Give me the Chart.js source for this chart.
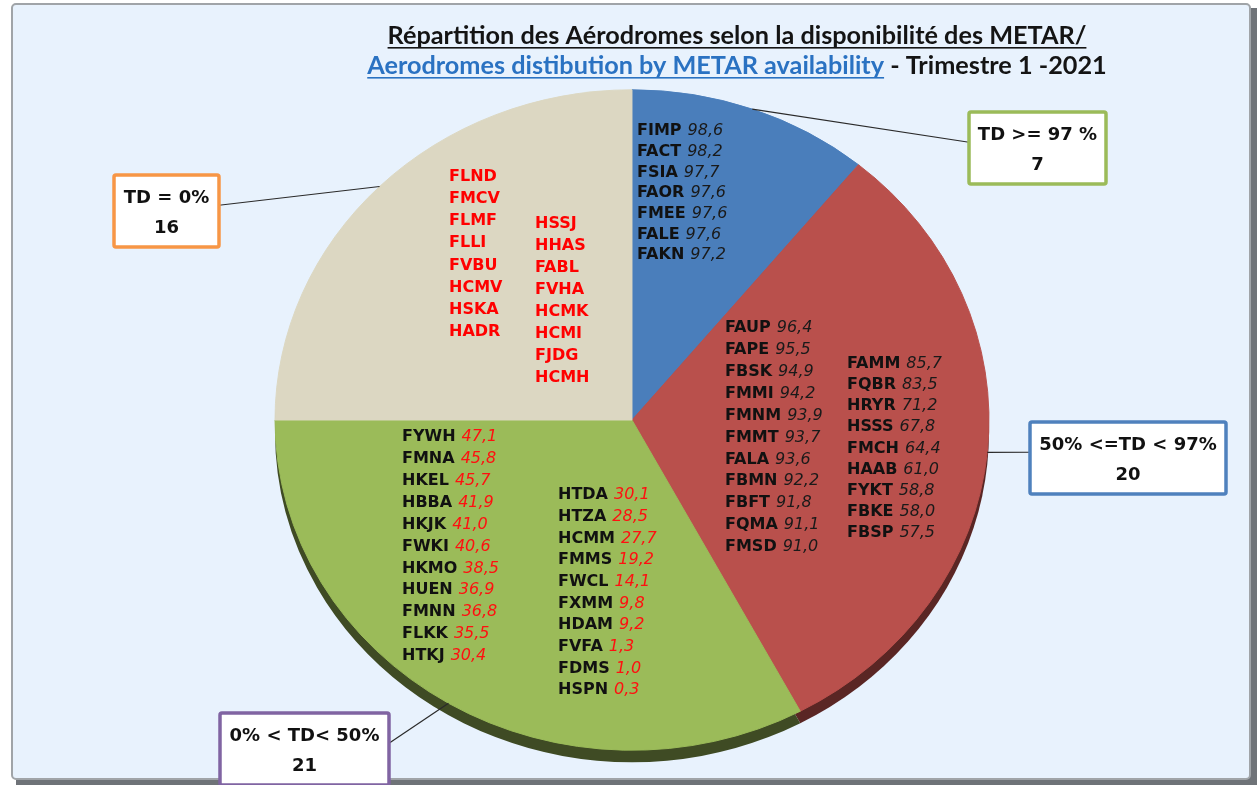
<!DOCTYPE html>
<html><head><meta charset="utf-8">
<script src="https://cdn.jsdelivr.net/npm/chart.js@4.4.1/dist/chart.umd.min.js"></script>
<style>html,body{margin:0;padding:0;background:#fff;overflow:hidden}#wrap{position:absolute;left:0;top:0;width:1259px;height:785px}</style>
</head><body><div id="wrap"><canvas id="c" width="1259" height="785"></canvas></div>
<script>
// ---- data ----
const categories = ["TD >= 97 %", "50% <=TD < 97%", "0% < TD< 50%", "TD = 0%"];
const counts = [7, 20, 21, 16];

const blueCodes = ["FIMP","FACT","FSIA","FAOR","FMEE","FALE","FAKN"];
const blueValues = [98.6,98.2,97.7,97.6,97.6,97.6,97.2];

const redCodes1 = ["FAUP","FAPE","FBSK","FMMI","FMNM","FMMT","FALA","FBMN","FBFT","FQMA","FMSD"];
const redValues1 = [96.4,95.5,94.9,94.2,93.9,93.7,93.6,92.2,91.8,91.1,91.0];
const redCodes2 = ["FAMM","FQBR","HRYR","HSSS","FMCH","HAAB","FYKT","FBKE","FBSP"];
const redValues2 = [85.7,83.5,71.2,67.8,64.4,61.0,58.8,58.0,57.5];

const greenCodes1 = ["FYWH","FMNA","HKEL","HBBA","HKJK","FWKI","HKMO","HUEN","FMNN","FLKK","HTKJ"];
const greenValues1 = [47.1,45.8,45.7,41.9,41.0,40.6,38.5,36.9,36.8,35.5,30.4];
const greenCodes2 = ["HTDA","HTZA","HCMM","FMMS","FWCL","FXMM","HDAM","FVFA","FDMS","HSPN"];
const greenValues2 = [30.1,28.5,27.7,19.2,14.1,9.8,9.2,1.3,1.0,0.3];

const beigeCodes1 = ["FLND","FMCV","FLMF","FLLI","FVBU","HCMV","HSKA","HADR"];
const beigeCodes2 = ["HSSJ","HHAS","FABL","FVHA","HCMK","HCMI","FJDG","HCMH"];

const titleLine1 = "Répartition des Aérodromes selon la disponibilité des METAR/";
const titleLine2a = "Aerodromes distibution by METAR availability";
const titleLine2b = " - Trimestre 1 -2021";

// ---- styles ----
const sliceColors = ["#4a7ebb", "#b9504c", "#9bbb59", "#dcd7c2"];
const rimColors = ["#2c4a70", "#5a2624", "#3f4b24", "#7d7a6b"];
const boxBorders = ["#9bbb59", "#4f81bd", "#8064a2", "#f79646"];
const boxes = [ // x, y, w, h
  [969, 112, 137, 72],
  [1030, 422, 196, 72],
  [220, 713, 169, 72],
  [114, 175, 105, 72]
];
const SY = 0.925;     // vertical squash for tilted look
const DEPTH = 12;     // rim thickness (px)
const labelFont = "'DejaVu Sans', Verdana, sans-serif";

function fmt(v){ return v.toFixed(1).replace('.', ','); }

const framePlugin = {
  id: 'frame',
  beforeDraw(chart){
    const ctx = chart.ctx;
    ctx.save();
    ctx.fillStyle = '#ffffff';
    ctx.fillRect(0,0,chart.width,chart.height);
    // shadow
    ctx.fillStyle = '#6f7378';
    ctx.fillRect(16, 8, 1241, 777);
    ctx.fillStyle = '#e8f2fd';
    ctx.strokeStyle = '#a0a4a8';
    ctx.lineWidth = 2;
    ctx.beginPath();
    ctx.roundRect(12, 4, 1238, 775, 4);
    ctx.fill(); ctx.stroke();
    // title
    const fam = "Lato, 'Open Sans', sans-serif";
    ctx.font = `bold 20px ${fam}`;
    const w0 = ctx.measureText(titleLine1).width;
    const size = 20 * 699 / w0;
    ctx.font = `bold ${size}px ${fam}`;
    ctx.textBaseline = 'alphabetic';
    ctx.textAlign = 'left';
    const tcx = 737;
    const w1 = ctx.measureText(titleLine1).width;
    ctx.fillStyle = '#141414';
    ctx.fillText(titleLine1, tcx - w1/2, 44);
    ctx.fillRect(tcx - w1/2, 47, w1, 1.6);
    const wa = ctx.measureText(titleLine2a).width;
    const wb = ctx.measureText(titleLine2b).width;
    const x2 = tcx - (wa + wb)/2;
    ctx.fillStyle = '#2a72c2';
    ctx.fillText(titleLine2a, x2, 74);
    ctx.fillRect(x2, 77, wa, 1.6);
    ctx.fillStyle = '#141414';
    ctx.fillText(titleLine2b, x2 + wa, 74);
    ctx.restore();
  },
  beforeDatasetsDraw(chart){
    const ctx = chart.ctx;
    const arcs = chart.getDatasetMeta(0).data;
    const cy = arcs[0].y;
    ctx.save();
    ctx.translate(0, cy); ctx.scale(1, SY); ctx.translate(0, -cy);
    // rim (3D side)
    arcs.forEach((a, i) => {
      const d = DEPTH / SY;
      ctx.beginPath();
      ctx.moveTo(a.x, a.y + d);
      ctx.arc(a.x, a.y + d, a.outerRadius, a.startAngle, a.endAngle);
      ctx.closePath();
      ctx.fillStyle = rimColors[i];
      ctx.fill();
    });
  },
  afterDatasetsDraw(chart){
    const ctx = chart.ctx;
    ctx.restore();
    const arcs = chart.getDatasetMeta(0).data;
    const cx = arcs[0].x, cy = arcs[0].y, r = arcs[0].outerRadius;

    function col(codes, values, dx, dy, step, codeColor, valColor){
      codes.forEach((c, i) => {
        const x = cx + dx, y = cy + dy + i*step;
        ctx.textBaseline = 'middle';
        ctx.textAlign = 'left';
        ctx.font = `bold 16px ${labelFont}`;
        ctx.fillStyle = codeColor;
        ctx.fillText(c, x, y);
        if (values) {
          const w = ctx.measureText(c).width + 6;
          ctx.font = `italic 16px ${labelFont}`;
          ctx.fillStyle = valColor;
          ctx.fillText(fmt(values[i]), x + w, y);
        }
      });
    }
    ctx.save();
    col(blueCodes, blueValues, 5, -289, 20.7, '#111', '#1a1a1a');
    col(redCodes1, redValues1, 93, -92, 21.9, '#111', '#1a1a1a');
    col(redCodes2, redValues2, 215, -56, 21.1, '#111', '#1a1a1a');
    col(greenCodes1, greenValues1, -230, 17, 21.9, '#111', '#ff1010');
    col(greenCodes2, greenValues2, -74, 75, 21.7, '#111', '#ff1010');
    col(beigeCodes1, null, -183, -243, 22.1, '#ff0000', null);
    col(beigeCodes2, null, -97, -196, 22.0, '#ff0000', null);

    // leader lines + callout boxes
    arcs.forEach((a, i) => {
      const mid = (a.startAngle + a.endAngle) / 2;
      const px = cx + r * Math.cos(mid);
      const py = cy + r * Math.sin(mid) * SY;
      const [bx, by, bw, bh] = boxes[i];
      const ex = (px < bx) ? bx : bx + bw;
      const ey = by + bh * 0.42;
      ctx.beginPath();
      ctx.moveTo(px, py); ctx.lineTo(ex, ey);
      ctx.strokeStyle = '#2a2a2a'; ctx.lineWidth = 1.2;
      ctx.stroke();
      ctx.beginPath();
      ctx.roundRect(bx, by, bw, bh, 2);
      ctx.fillStyle = '#ffffff'; ctx.fill();
      ctx.strokeStyle = boxBorders[i]; ctx.lineWidth = 3.5; ctx.stroke();
      ctx.fillStyle = '#111';
      ctx.font = `bold 18px ${labelFont}`;
      ctx.textAlign = 'center'; ctx.textBaseline = 'middle';
      ctx.fillText(chart.data.labels[i], bx + bw/2, by + 23);
      ctx.fillText(String(chart.data.datasets[0].data[i]), bx + bw/2, by + 53);
    });
    ctx.restore();
  }
};

new Chart(document.getElementById('c'), {
  type: 'pie',
  data: {
    labels: categories,
    datasets: [{
      data: counts,
      backgroundColor: sliceColors,
      borderColor: sliceColors,
      borderWidth: 1,
      radius: 357
    }]
  },
  options: {
    responsive: false,
    devicePixelRatio: 1,
    animation: false,
    layout: { padding: { left: 5, right: 0, top: 55, bottom: 0 } },
    plugins: { legend: { display: false }, tooltip: { enabled: false }, title: { display: false } },
    events: []
  },
  plugins: [framePlugin]
});
</script>
</body></html>
